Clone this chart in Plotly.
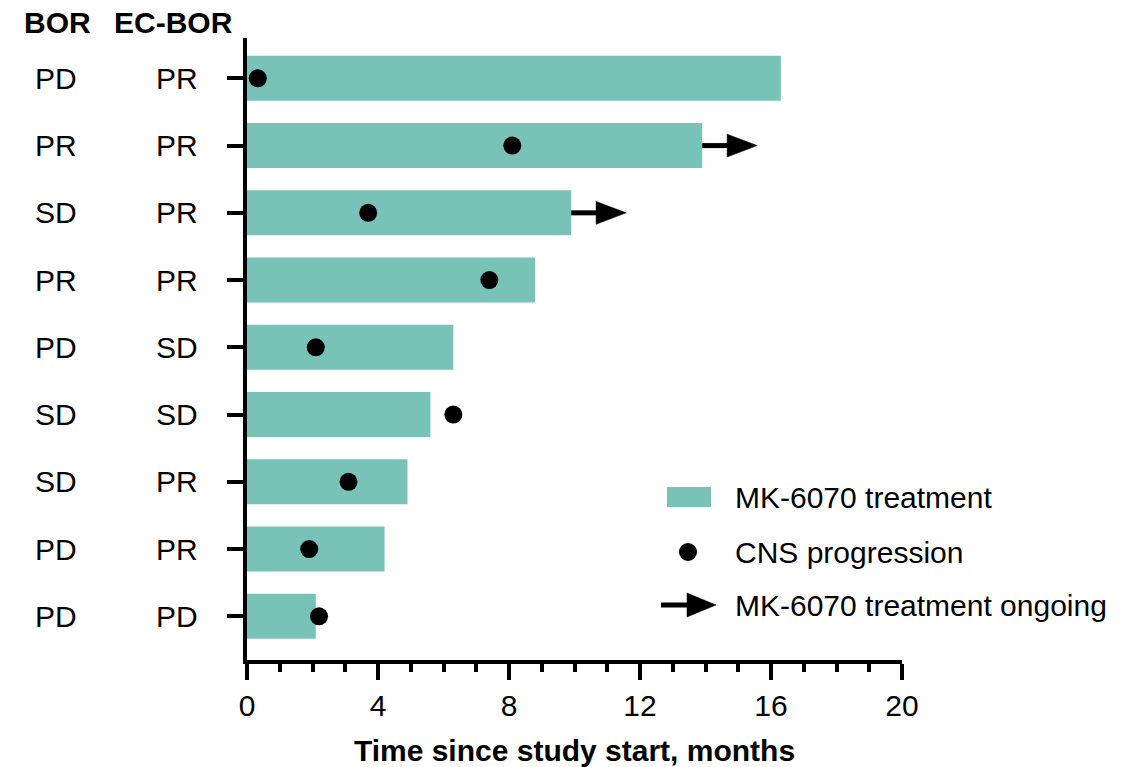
import plotly.graph_objects as go

# ---------------- data ----------------
bor = ["PD", "PR", "SD", "PR", "PD", "SD", "SD", "PD", "PD"]
ec_bor = ["PR", "PR", "PR", "PR", "SD", "SD", "PR", "PR", "PD"]
treatment_months = [16.3, 13.9, 9.9, 8.8, 6.3, 5.6, 4.9, 4.2, 2.1]
cns_progression = [0.33, 8.1, 3.7, 7.4, 2.1, 6.3, 3.1, 1.9, 2.2]
ongoing = [False, True, True, False, False, False, False, False, False]
x_ticks = [0, 4, 8, 12, 16, 20]

legend_labels = ["MK-6070 treatment", "CNS progression", "MK-6070 treatment ongoing"]
headers = ["BOR", "EC-BOR"]

# ---------------- style ----------------
TEAL = "#79C2B8"
FONT = "Liberation Sans, Arial, sans-serif"
FS = 30
W, H = 1135, 767
ML, MT = 247, 38
PW, PH = 655, 622
MR, MB = W - ML - PW, H - MT - PH

rows = list(range(len(bor)))


def px_x(p):
    # target pixel -> paper fraction
    return (p - ML) / PW


def px_y(p):
    return (MT + PH - p) / PH


fig = go.Figure()

fig.add_trace(go.Bar(
    x=treatment_months, y=rows, orientation="h", width=0.67,
    marker=dict(color=TEAL, line=dict(width=0)), showlegend=False,
    hoverinfo="x+y",
))

# ongoing arrows
LINE_LEN = 0.76
HEAD_LEN = 0.92
HEAD_HALF = 0.17
lx, ly, tx, ty = [], [], [], []
for r, end, on in zip(rows, treatment_months, ongoing):
    if not on:
        continue
    lx += [end, end + LINE_LEN + 0.1, None]
    ly += [r, r, None]
    b = end + LINE_LEN
    tx += [b, b + HEAD_LEN, b, b, None]
    ty += [r - HEAD_HALF, r, r + HEAD_HALF, r - HEAD_HALF, None]

fig.add_trace(go.Scatter(x=lx, y=ly, mode="lines", line=dict(color="black", width=5),
                         showlegend=False, cliponaxis=False))
fig.add_trace(go.Scatter(x=tx, y=ty, mode="lines", fill="toself", fillcolor="black",
                         line=dict(color="black", width=0.5), showlegend=False,
                         cliponaxis=False))

fig.add_trace(go.Scatter(
    x=cns_progression, y=rows, mode="markers",
    marker=dict(color="black", size=18, line=dict(width=0)),
    showlegend=False, cliponaxis=False,
))

# row labels
for r, b, e in zip(rows, bor, ec_bor):
    fig.add_annotation(x=px_x(56), xref="paper", y=r, yref="y", text=b, showarrow=False,
                       xanchor="center", yanchor="middle", font=dict(size=FS, color="black", family=FONT))
    fig.add_annotation(x=px_x(177), xref="paper", y=r, yref="y", text=e, showarrow=False,
                       xanchor="center", yanchor="middle", font=dict(size=FS, color="black", family=FONT))

for h, cx in zip(headers, [57, 173]):
    fig.add_annotation(x=px_x(cx), xref="paper", y=px_y(22), yref="paper", text=f"<b>{h}</b>",
                       showarrow=False, xanchor="center", yanchor="middle",
                       font=dict(size=FS, color="black", family=FONT))

# legend (manual)
shapes = [
    dict(type="rect", xref="paper", yref="paper", x0=px_x(667), x1=px_x(711),
         y0=px_y(507), y1=px_y(487), fillcolor=TEAL, line=dict(width=0)),
    dict(type="circle", xref="paper", yref="paper", x0=px_x(679), x1=px_x(697),
         y0=px_y(561), y1=px_y(543), fillcolor="black", line=dict(width=0)),
    dict(type="line", xref="paper", yref="paper", x0=px_x(661), x1=px_x(690),
         y0=px_y(605), y1=px_y(605), line=dict(color="black", width=5)),
    dict(type="path", xref="paper", yref="paper",
         path=f"M {px_x(687)},{px_y(593)} L {px_x(716)},{px_y(605)} L {px_x(687)},{px_y(617)} Z",
         fillcolor="black", line=dict(color="black", width=0.5)),
]
for lab, cy in zip(legend_labels, [497, 552, 605]):
    fig.add_annotation(x=px_x(733), xref="paper", y=px_y(cy), yref="paper", text=lab,
                       showarrow=False, xanchor="left", yanchor="middle",
                       font=dict(size=FS, color="black", family=FONT))

fig.update_layout(
    width=W, height=H, autosize=False,
    margin=dict(l=ML, r=MR, t=MT, b=MB, autoexpand=False),
    plot_bgcolor="white", paper_bgcolor="white",
    shapes=shapes,
    font=dict(family=FONT, size=FS, color="black"),
    bargap=0.33,
)
fig.update_xaxes(
    range=[0, 20], tickvals=x_ticks, ticktext=[str(v) for v in x_ticks],
    showline=True, linecolor="black", linewidth=4, mirror=False,
    ticks="outside", ticklen=16, tickwidth=4, tickcolor="black",
    minor=dict(dtick=1, ticks="outside", ticklen=8, tickwidth=4, tickcolor="black"),
    showgrid=False, zeroline=False, automargin=False,
    tickfont=dict(size=FS, family=FONT, color="black"),
    title=dict(text="<b>Time since study start, months</b>", standoff=24,
               font=dict(size=FS, family=FONT, color="black")),
)
fig.update_yaxes(
    range=[8.65, -0.6], tickvals=rows, ticktext=["" for _ in rows],
    showline=True, linecolor="black", linewidth=4, automargin=False,
    ticks="outside", ticklen=16, tickwidth=4, tickcolor="black",
    showgrid=False, zeroline=False,
)

fig.write_html("out.html", config={"displayModeBar": False},
               post_script="document.body.style.margin='0';document.body.style.overflow='hidden';")
